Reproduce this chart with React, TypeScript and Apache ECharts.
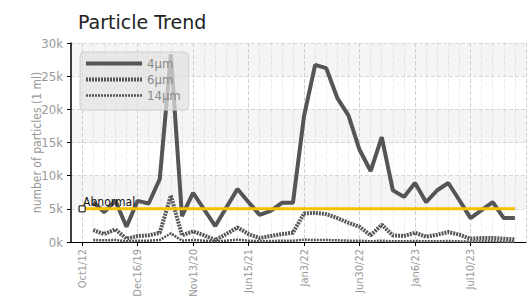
import React, { useEffect, useRef } from "react";
import * as echarts from "echarts";

// Tick labels for the 40 sampling dates (only every 5th one is legible / shown)
const dateLabels: string[] = [
  "Oct1/12", "", "", "", "",
  "Dec16/19", "", "", "", "",
  "Nov13/20", "", "", "", "",
  "Jun15/21", "", "", "", "",
  "Jan3/22", "", "", "", "",
  "Jun30/22", "", "", "", "",
  "Jan6/23", "", "", "", "",
  "Jul10/23", "", "", "", "",
];

const p4: (number | null)[] = [
  null, 6000, 4500, 6200, 2300, 6200, 5800, 9500, 28300, 3900,
  7400, 4900, 2400, 5200, 8000, 6000, 4100, 4700, 5900, 5900,
  19000, 26700, 26200, 21700, 19100, 13900, 10700, 15800, 7800, 6800,
  8900, 6000, 7800, 8900, 6300, 3600, 4800, 6000, 3600, 3600,
];

const p6: (number | null)[] = [
  null, 1800, 1200, 1900, 500, 900, 1000, 1400, 7000, 1000,
  1600, 1000, 300, 1200, 2200, 1200, 600, 900, 1200, 1400,
  4300, 4400, 4200, 3600, 2900, 2300, 1000, 2600, 1000, 900,
  1400, 800, 1100, 1500, 1100, 500, 600, 600, 500, 400,
];

const p14: (number | null)[] = [
  null, 300, 250, 300, 100, 200, 200, 300, 1300, 200,
  300, 200, 100, 200, 350, 200, 100, 150, 200, 200,
  350, 300, 300, 250, 200, 200, 100, 200, 100, 100,
  150, 100, 100, 150, 100, 50, 100, 100, 50, 50,
];

const abnormalLevel = 5000;

const FONT = "'Liberation Sans Narrow', 'DejaVu Sans Condensed', sans-serif";

export default function App() {
  const ref = useRef<HTMLDivElement>(null);

  useEffect(() => {
    if (!ref.current) return;
    const chart = echarts.init(ref.current, undefined, { renderer: "svg" });

    // pad one empty category on each side of the dates
    const cats = ["", ...dateLabels, ""];
    const pad = (arr: any[]) => [null, ...arr, null];
    const abnormal: any[] = dateLabels.map((_, i) =>
      i === 0
        ? {
            value: abnormalLevel,
            symbol: "rect",
            symbolSize: 6,
            itemStyle: { color: "#fff", borderColor: "#000", borderWidth: 1 },
            label: {
              show: true,
              formatter: "Abnormal",
              position: "top",
              distance: 1,
              align: "left",
              offset: [1, 4],
              color: "#111",
              fontSize: 12,
              fontFamily: FONT,
            },
          }
        : abnormalLevel
    );

    const minor = "rgba(0,0,0,0.07)";
    const major = "#cfcfcf";
    const hidden = { color: "rgba(0,0,0,0)", borderColor: "rgba(0,0,0,0)", borderWidth: 0 };

    chart.setOption({
      animation: false,
      title: {
        text: "Particle Trend",
        left: 73,
        top: 7,
        textStyle: {
          fontFamily: "'DejaVu Sans', sans-serif",
          fontWeight: "normal",
          fontSize: 19,
          color: "#222",
        },
      },
      legend: {
        data: [
          { name: "4μm", itemStyle: hidden, lineStyle: { width: 4, type: "solid" } },
          { name: "6μm", itemStyle: hidden, lineStyle: { width: 4, type: [2, 1] } },
          { name: "14μm", itemStyle: hidden, lineStyle: { width: 2.5, type: [2, 1] } },
        ],
        orient: "vertical",
        left: 80,
        top: 52,
        itemWidth: 56,
        itemHeight: 8,
        itemGap: 3,
        padding: [5, 8, 8, 4],
        backgroundColor: "rgba(225,225,225,0.75)",
        borderColor: "#d0d0d0",
        borderWidth: 1,
        borderRadius: 4,
        textStyle: { color: "#888", fontSize: 13, fontFamily: FONT },
      },
      grid: { left: 71, right: 3, top: 43, bottom: 55, outerBoundsMode: "none" },
      xAxis: {
        type: "category",
        boundaryGap: false,
        data: cats,
        axisLine: { lineStyle: { color: "#000", width: 1 } },
        axisTick: {
          interval: (idx: number) => cats[idx] !== "",
          length: 4,
          lineStyle: { color: "#000" },
        },
        axisLabel: {
          interval: 0,
          rotate: 90,
          margin: 7,
          color: "#999",
          fontSize: 11,
          fontFamily: FONT,
        },
        splitLine: {
          show: true,
          interval: 0,
          lineStyle: {
            type: "dashed",
            color: [minor, major, minor, minor, minor],
          },
        },
      },
      yAxis: {
        type: "value",
        min: 0,
        max: 30000,
        interval: 5000,
        name: "number of particles (1 ml)",
        nameLocation: "middle",
        nameGap: 28,
        nameMoveOverlap: false,
        nameTextStyle: { color: "#999", fontSize: 12, fontFamily: FONT },
        axisLine: { show: true, lineStyle: { color: "#000", width: 1.5 } },
        axisTick: { show: true, length: 4, lineStyle: { color: "#000" } },
        axisLabel: {
          margin: 8,
          color: "#999",
          fontSize: 13,
          fontFamily: FONT,
          formatter: (v: number) => v / 1000 + "k",
        },
        splitLine: { lineStyle: { type: "dashed", color: "#d8d8d8" } },
        splitArea: {
          show: true,
          areaStyle: { color: ["rgba(255,255,255,0)", "#f5f5f5"] },
        },
      },
      series: [
        {
          name: "4μm",
          type: "line",
          data: pad(p4),
          symbol: "none",
          color: "#555",
          lineStyle: { color: "#555", width: 4 },
          z: 3,
        },
        {
          name: "6μm",
          type: "line",
          data: pad(p6),
          symbol: "none",
          color: "#555",
          lineStyle: { color: "#555", width: 4, type: [2, 1] },
          z: 3,
        },
        {
          name: "14μm",
          type: "line",
          data: pad(p14),
          symbol: "none",
          color: "#555",
          lineStyle: { color: "#555", width: 2.5, type: [2, 1] },
          z: 3,
        },
        {
          name: "Abnormal",
          type: "line",
          data: pad(abnormal),
          symbol: "none",
          showSymbol: true,
          color: "#f5c000",
          lineStyle: { color: "#f5c000", width: 3 },
          z: 4,
        },
      ],
    });

    return () => chart.dispose();
  }, []);

  return (
    <div
      ref={ref}
      style={{ position: "absolute", left: 0, top: 0, width: 529, height: 297 }}
    />
  );
}
